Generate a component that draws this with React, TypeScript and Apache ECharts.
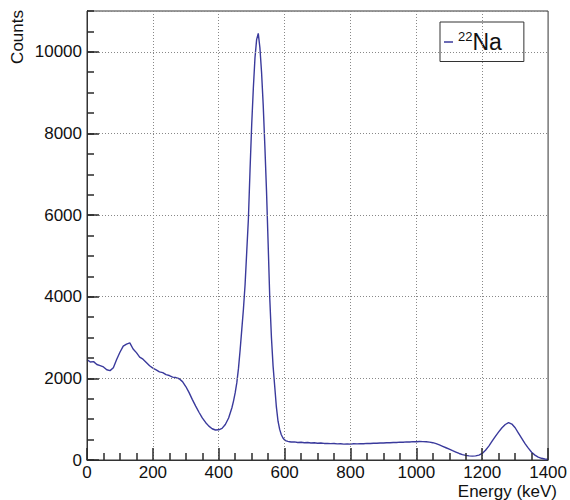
import React, { useEffect, useRef } from "react";
import * as echarts from "echarts";

// Energy bins (keV) and counts
const energies: number[] = [
  0, 10, 20, 30, 40, 50, 60, 70, 80, 90, 100, 110, 120, 130, 140, 150, 160, 170, 180, 190,
  200, 210, 220, 230, 240, 250, 260, 270, 280, 290, 300, 310, 320, 330, 340, 350, 360, 370, 380, 390,
  400, 410, 420, 430, 440,
  445, 450, 455, 460, 465, 470, 475, 480, 485, 490, 495, 500, 505, 510, 515, 520, 525, 530, 535, 540,
  545, 550, 555, 560, 565, 570, 575, 580, 585, 590, 595, 600, 605, 610, 615, 620,
  630, 640, 650, 660, 670, 680, 690, 700, 710, 720, 730, 740, 750, 760, 770, 780, 790, 800,
  810, 820, 830, 840, 850, 860, 870, 880, 890, 900, 910, 920, 930, 940, 950, 960, 970, 980, 990, 1000,
  1010, 1020, 1030, 1040, 1050, 1060, 1070, 1080, 1090, 1100, 1110, 1120, 1130, 1140, 1150, 1160, 1170, 1180, 1190, 1200,
  1210, 1220, 1230, 1240, 1250, 1260, 1270, 1280, 1290, 1300, 1310, 1320, 1330, 1340, 1350, 1360, 1370, 1380, 1390, 1400,
];

const counts: number[] = [
  2460, 2400, 2410, 2340, 2310, 2280, 2210, 2190, 2260, 2460, 2640, 2790, 2840, 2870, 2720, 2630, 2520, 2470, 2390, 2310,
  2250, 2210, 2160, 2140, 2090, 2070, 2030, 2020, 1990, 1920, 1800, 1650, 1480, 1320, 1170, 1030, 920, 830, 765, 735,
  740, 775, 870, 1030, 1280,
  1450, 1650, 1900, 2250, 2700, 3200, 3700, 4300, 5100, 5900, 7100, 8200, 9100, 9850, 10300, 10450, 10100, 9500, 8700, 7700,
  6600, 5300, 3950, 3000, 2300, 1800, 1300, 950, 750, 620, 540, 490, 470, 455, 448, 440,
  445, 428, 436, 424, 430, 418, 421, 412, 415, 406, 408, 400, 403, 395, 398, 390, 394, 389,
  397, 395, 402, 399, 407, 404, 412, 409, 417, 415, 423, 421, 430, 428, 438, 436, 444, 441, 449, 447,
  453, 449, 447, 438, 424, 400, 370, 335, 300, 265, 228, 195, 160, 132, 112, 100, 96, 101, 120, 160,
  240, 340, 460, 580, 690, 790, 870, 915, 880, 790, 660, 530, 400, 290, 190, 120, 72, 42, 25, 15,
];

const seriesName = "22Na";
const xTitle = "Energy (keV)";
const yTitle = "Counts";

const FONT = "'Liberation Sans', Arial, Helvetica, sans-serif";
const LINE_COLOR = "#3a3a9c";
const AXIS_COLOR = "#333333";
const TICK_COLOR = "#2a2a2a";

export default function App() {
  const ref = useRef<HTMLDivElement>(null);

  useEffect(() => {
    if (!ref.current) return;
    const chart = echarts.init(ref.current, undefined, { renderer: "svg" });
    const data = energies.map((e, i) => [e, counts[i]]);
    const plain = (v: number) => String(v);

    chart.setOption({
      animation: false,
      grid: {
        left: 87,
        right: 19,
        top: 11,
        bottom: 40,
        show: true,
        borderColor: AXIS_COLOR,
        borderWidth: 1,
      },
      legend: {
        show: true,
        left: 440,
        top: 22,
        data: [seriesName],
        icon: "rect",
        itemWidth: 9,
        itemHeight: 1.5,
        backgroundColor: "#fff",
        borderColor: "#333",
        borderWidth: 1,
        borderRadius: 0,
        padding: [8, 22, 8, 4],
        formatter: () => "{sup|22}{base|Na}",
        textStyle: {
          fontFamily: FONT,
          color: "#111",
          rich: {
            sup: { fontSize: 13, verticalAlign: "top", fontFamily: FONT, color: "#111", padding: [0, 0, 11, 0] },
            base: { fontSize: 23, fontFamily: FONT, color: "#111" },
          },
        },
      },
      xAxis: {
        type: "value",
        min: 0,
        max: 1400,
        interval: 200,
        z: 5,
        axisLine: { show: true, lineStyle: { color: AXIS_COLOR, width: 1 } },
        axisTick: { show: true, inside: true, length: 12, lineStyle: { color: TICK_COLOR, width: 1.5 } },
        minorTick: { show: true, splitNumber: 4, length: 7, lineStyle: { color: TICK_COLOR, width: 1.5 } },
        splitLine: { show: true, lineStyle: { color: "#888", type: [1, 2], width: 1 } },
        axisLabel: { color: "#111", fontSize: 17, fontFamily: FONT, margin: 4, formatter: plain },
      },
      yAxis: [
        {
          type: "value",
          min: 0,
          max: 11000,
          interval: 2000,
          z: 5,
          axisLine: { show: true, lineStyle: { color: AXIS_COLOR, width: 1 } },
          axisTick: { show: true, inside: true, length: 12, lineStyle: { color: TICK_COLOR, width: 1.5 } },
          splitLine: { show: true, lineStyle: { color: "#888", type: [1, 2], width: 1 } },
          axisLabel: { color: "#111", fontSize: 17, fontFamily: FONT, margin: 5, showMaxLabel: false, formatter: plain },
        },
        {
          type: "value",
          min: 0,
          max: 11000,
          interval: 500,
          position: "left",
          z: 5,
          axisLine: { show: true, lineStyle: { color: AXIS_COLOR, width: 1 } },
          axisTick: { show: true, inside: true, length: 7, lineStyle: { color: TICK_COLOR, width: 1.5 } },
          splitLine: { show: false },
          axisLabel: { show: false },
        },
      ],
      series: [
        {
          name: seriesName,
          type: "line",
          data,
          yAxisIndex: 0,
          showSymbol: false,
          symbol: "none",
          lineStyle: { color: LINE_COLOR, width: 1.4 },
          itemStyle: { color: LINE_COLOR },
        },
      ],
      graphic: [
        {
          type: "text",
          x: 17,
          y: 10,
          rotation: Math.PI / 2,
          style: {
            text: yTitle,
            font: `17px ${FONT}`,
            fill: "#111",
            align: "right",
            verticalAlign: "middle",
          },
        },
        {
          type: "text",
          x: 557,
          y: 491,
          style: {
            text: xTitle,
            font: `17px ${FONT}`,
            fill: "#111",
            align: "right",
            verticalAlign: "middle",
          },
        },
      ],
    });

    return () => chart.dispose();
  }, []);

  return (
    <div
      ref={ref}
      style={{ position: "fixed", left: 0, top: 0, width: 570, height: 500, background: "#fff" }}
    />
  );
}
